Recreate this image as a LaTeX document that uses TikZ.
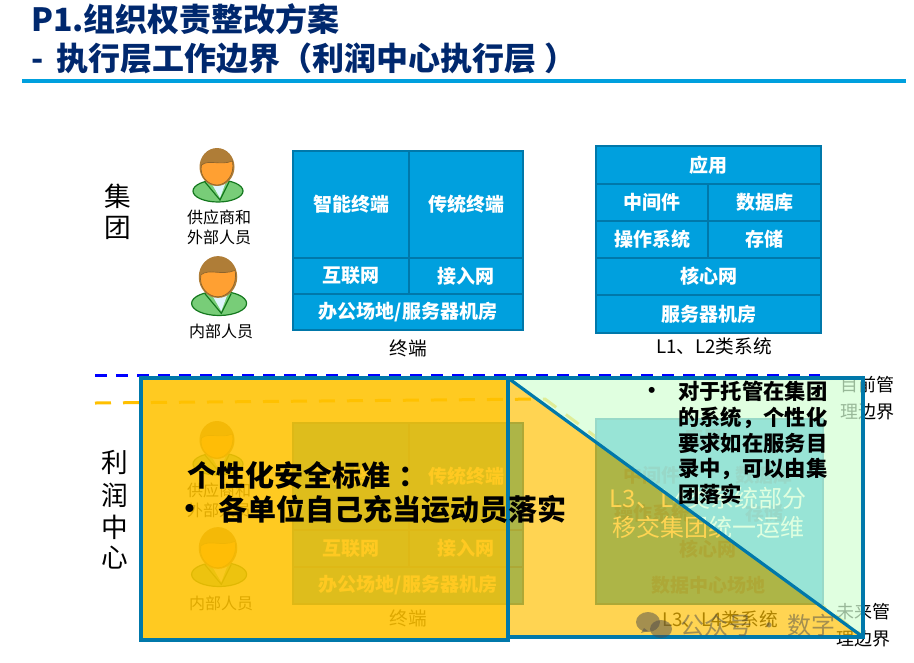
\documentclass[tikz,border=0pt]{standalone}
\usepackage{fontspec}
\setmainfont{Noto Sans CJK SC}
\usepackage{xcolor}
\usepackage{tikz}
\usetikzlibrary{positioning}

\definecolor{cellblue}{RGB}{0,160,222}
\definecolor{edgeblue}{RGB}{0,120,170}
\definecolor{titleblue}{RGB}{0,40,110}
\definecolor{faintblue}{RGB}{0,118,172}
\definecolor{paleover}{RGB}{212,255,212}
\definecolor{orangeover}{RGB}{255,192,0}
\definecolor{softorange}{RGB}{255,194,0}
\definecolor{facecol}{RGB}{255,160,50}
\definecolor{haircol}{RGB}{175,125,55}
\definecolor{bodycol}{RGB}{120,205,120}
\definecolor{bodyline}{RGB}{20,120,30}

\begin{document}
\begin{tikzpicture}[
    x=0.75pt, y=-0.75pt,
    node distance=0pt,
    cell/.style 2 args={draw=edgeblue, fill=cellblue, line width=2.1pt, outer sep=0pt, inner sep=0pt,
                minimum width=#1*0.75pt, minimum height=#2*0.75pt, text=white, align=center,
                font=\fontsize{14.25}{17}\selectfont\bfseries},
    lbl/.style={inner sep=0pt, align=center, font=\fontsize{12}{15}\selectfont},
    biglbl/.style={lbl, font=\fontsize{14}{17}\selectfont},
    side/.style={inner sep=0pt, font=\fontsize{20}{24}\selectfont},
    bound/.style={inner sep=0pt, align=center, font=\fontsize{13.5}{20}\selectfont},
    faint/.style={inner sep=0pt, text=faintblue, font=\fontsize{14.25}{17}\selectfont\bfseries},
    headline/.style={inner sep=0pt, anchor=west, text=titleblue, font=\fontsize{24}{28}\selectfont\bfseries},
    callout/.style={inner sep=0pt, anchor=west, font=\fontsize{21.75}{26}\selectfont\bfseries},
    person/.pic={
        \draw[fill=bodycol, draw=bodyline, line width=0.9pt] (1,24) ellipse [x radius=25, y radius=11];
        \fill[white!88!cyan] (-8,12) -- (10,12) -- (3,31) -- cycle;
        \draw[bodyline, line width=0.9pt] (-12,15) -- (3,33) -- (12,15);
        \fill[haircol] (0,0) ellipse [x radius=17.5, y radius=19];
        \draw[fill=facecol, draw=haircol!80!black, line width=0.5pt] (-15.5,-2) .. controls (-8,-8) and (3,-1) .. (15.5,-6)
            .. controls (18,8) and (9,18) .. (0,18) .. controls (-9,18) and (-18,9) .. (-15.5,-2);
    },
]
\useasboundingbox (0,0) rectangle (914,662);

% --- Title ---
\node[headline] (title1) at (31,19) {P1.组织权责整改方案};
\node[headline] (title2) at (31,58) {-\hspace{4.5pt} 执行层工作边界（利润中心执行层\hspace{6pt}）};
\coordinate (ruleL) at (22,81);
\coordinate (ruleR) at (906,81);
\draw[cellblue, line width=2.4pt] (ruleL) -- (ruleR);

% --- Group side ---
\node[side] (grp1) at (118,196) {集};
\node[side] (grp2) at (118,228) {团};
\pic at (217,167) {person};
\node[lbl] (ext) at (219,227) {供应商和\\外部人员};
\pic[scale=1.1] at (218,277) {person};
\node[lbl] (inner) at (221,331) {内部人员};

% --- Terminal stack ---
\node[cell={116}{107}, anchor=north west] (smart) at (293,151) {智能终端};
\node[cell={114}{107}, right=of smart] (trad) {传统终端};
\node[cell={116}{36}, below=of smart] (inet) {互联网};
\node[cell={114}{36}, right=of inet] (access) {接入网};
\node[cell={230}{36}, below=0pt of inet.south west, anchor=north west] (site) {办公场地/服务器机房};
\node[biglbl, below=7pt of site] (term) {终端};

% --- L1, L2 stack ---
\node[cell={225}{38}, anchor=north west] (app) at (596,146) {应用};
\node[cell={112}{37}, below=0pt of app.south west, anchor=north west] (mid) {中间件};
\node[cell={113}{37}, right=of mid] (db) {数据库};
\node[cell={112}{37}, below=of mid] (os) {操作系统};
\node[cell={113}{37}, right=of os] (store) {存储};
\node[cell={225}{37}, below=0pt of os.south west, anchor=north west] (core) {核心网};
\node[cell={225}{38}, below=of core] (room) {服务器机房};
\node[biglbl] (sys12) at (714,346) {L1、L2类系统};

% --- Boundary lines ---
\coordinate (blueL) at (95,375.5);
\coordinate (blueR) at (820,375.5);
\coordinate (yelL) at (95,403);
\coordinate (yelM) at (545,399);
\coordinate (yelR) at (863,636);
\draw[blue, line width=2.25pt, dash pattern=on 9pt off 6.75pt] (blueL) -- (blueR);
\draw[orangeover, line width=2.25pt, dash pattern=on 12pt off 9pt] (yelL) -- (yelM) -- (yelR);
\node[bound] (nowb) at (867,398) {目前管\\理边界};
\node[bound] (newb) at (863,625) {未来管\\理边界};

% --- Profit centre side ---
\node[side] (pc1) at (115,462) {利};
\node[side] (pc2) at (115,495) {润};
\node[side] (pc3) at (115,527) {中};
\node[side] (pc4) at (115,558) {心};
\pic at (217,440) {person};
\node[lbl] (lext) at (219,500) {供应商和\\外部人员};
\pic[scale=1.1] at (218,548) {person};
\node[lbl] (linner) at (221,603) {内部人员};

\node[cell={116}{107}, anchor=north west] (lsmart) at (293,423) {智能终端};
\node[cell={114}{107}, right=of lsmart] (ltrad) {传统终端};
\node[cell={116}{37}, below=of lsmart] (linet) {互联网};
\node[cell={114}{37}, right=of linet] (laccess) {接入网};
\node[cell={230}{37}, below=0pt of linet.south west, anchor=north west] (lsite) {办公场地/服务器机房};
\node[biglbl, below=4pt of lsite] (lterm) {终端};

% --- L3, L4 stack ---
\node[cell={227}{185}, anchor=north west] (cover) at (596,419) {};
\node[faint] (lapp) at (703,437) {应用};
\node[faint] (lmid) at (652,475) {中间件};
\node[faint] (ldb) at (764,475) {数据库};
\node[faint] (los) at (652,513) {操作系统};
\node[faint] (lstore) at (764,513) {存储};
\node[faint] (lcore) at (708,549) {核心网};
\node[faint] (lroom) at (708,585) {数据中心场地};
\node[inner sep=0pt, align=center, text=white, font=\fontsize{18}{21.5}\selectfont] (move) at (708,513)
    {L3、L4类系统部分\\移交集团统一运维};
\node[biglbl] (sys34) at (720,619) {L3、L4类系统};

% --- Overlays ---
\coordinate (tl) at (508,378);
\coordinate (tr) at (863,378);
\coordinate (br) at (863,637);
\coordinate (bl) at (508,637);
\fill[paleover, opacity=0.72] (tl) -- (tr) -- (br) -- cycle;
\fill[orangeover, opacity=0.68] (tl) -- (br) -- (bl) -- cycle;
\draw[edgeblue, line width=2.4pt, line join=miter] (tl) -- (tr) -- (br) -- (bl) -- cycle;
\draw[edgeblue, line width=2.4pt] (tl) -- (br);
\fill[softorange, opacity=0.87] (141,378) rectangle (508,640);
\draw[edgeblue, line width=2.4pt] (141,378) rectangle (508,640);

% --- Callouts ---
\node[callout] (std) at (187,475) {个性化安全标准\hspace{0.3em}：};
\node[callout, anchor=center] (stdmark) at (190,512) {•};
\node[callout] (stdtext) at (218,509) {各单位自己充当运动员落实};
\node[inner sep=0pt, font=\fontsize{16}{19}\selectfont\bfseries] (hostmark) at (652,393) {•};
\node[inner sep=0pt, anchor=north west, align=left, font=\fontsize{16}{19.3}\selectfont\bfseries] (host) at (678,381)
    {对于托管在集团\\的系统，个性化\\要求如在服务目\\录中，可以由集\\团落实};

% --- Mark ---
\begin{scope}[opacity=0.5]
    \fill[black!70] (648,622) ellipse [x radius=12, y radius=10];
    \fill[black!70] (641,633) -- (644,628) -- (648,631) -- cycle;
    \fill[black!70] (661,629) ellipse [x radius=11, y radius=9];
    \node[inner sep=0pt, anchor=west, text=black!70, font=\fontsize{18}{21}\selectfont] (mark) at (680,625) {公众号 · 数字};
\end{scope}

\end{tikzpicture}
\end{document}
